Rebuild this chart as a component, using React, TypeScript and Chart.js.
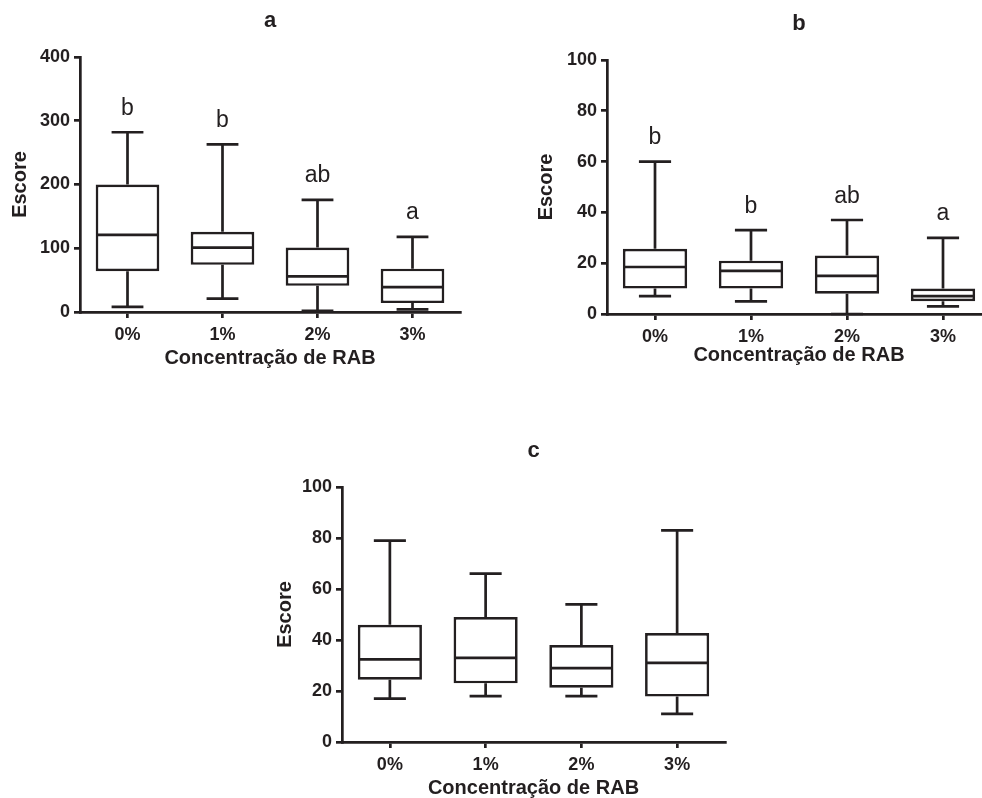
import React, { useEffect, useRef } from 'react';
import { Chart, registerables } from 'chart.js';

Chart.register(...registerables);

const FONT = '"Liberation Sans", Arial, Helvetica, sans-serif';
const LINE = '#231f20';
const TEXT = '#231f20';
const LW = 2.7;

const categories = ['0%', '1%', '2%', '3%'];
const xAxisTitle = 'Concentração de RAB';
const yAxisTitle = 'Escore';

// Panel a
const aMin = [8, 21, 2, 4];
const aQ1 = [64, 74, 41, 14];
const aMedian = [121, 101, 56, 39];
const aQ3 = [200, 126, 101, 68];
const aMax = [282, 263, 176, 118];
const aLetters = ['b', 'b', 'ab', 'a'];

// Panel b
const bMin = [7, 5, 0, 3];
const bQ1 = [10, 10, 8, 5];
const bMedian = [18.5, 17, 15, 7];
const bQ3 = [25.7, 21, 23, 10];
const bMax = [60, 33, 37, 30];
const bLetters = ['b', 'b', 'ab', 'a'];

// Panel c
const cMin = [17, 18, 18, 11];
const cQ1 = [24.4, 23, 21.3, 17.8];
const cMedian = [32.4, 33, 29, 31];
const cQ3 = [46, 49, 38, 42.7];
const cMax = [79, 66, 54, 83];
const cLetters: string[] = [];

type PanelProps = {
  title: string;
  mins: number[];
  q1s: number[];
  medians: number[];
  q3s: number[];
  maxs: number[];
  letters: string[];
  yMax: number;
  yStep: number;
  left: number;
  top: number;
  width: number;
  height: number;
  plotLeft: number;
  plotTop: number;
  plotRight: number;
  plotBottom: number;
  padBottom: number;
  yTitlePad: number;
};

function makeBoxPlugin(p: PanelProps) {
  return {
    id: 'boxExtras',
    afterDatasetsDraw(chart: any) {
      const { ctx, chartArea } = chart;
      const y = chart.scales.y;
      const meta = chart.getDatasetMeta(0);
      ctx.save();
      ctx.strokeStyle = LINE;
      ctx.lineWidth = LW;
      ctx.lineCap = 'butt';
      meta.data.forEach((bar: any, i: number) => {
        const x = bar.x;
        const w = bar.width;
        const pMin = y.getPixelForValue(p.mins[i]);
        const pQ1 = y.getPixelForValue(p.q1s[i]);
        const pMed = y.getPixelForValue(p.medians[i]);
        const pQ3 = y.getPixelForValue(p.q3s[i]);
        const pMax = y.getPixelForValue(p.maxs[i]);
        ctx.beginPath();
        ctx.moveTo(x, pQ3);
        ctx.lineTo(x, pMax);
        ctx.moveTo(x - w / 4, pMax);
        ctx.lineTo(x + w / 4, pMax);
        ctx.moveTo(x, pQ1);
        ctx.lineTo(x, pMin);
        ctx.moveTo(x - w / 4, pMin);
        ctx.lineTo(x + w / 4, pMin);
        ctx.moveTo(x - w / 2 + 1, pMed);
        ctx.lineTo(x + w / 2 - 1, pMed);
        ctx.stroke();
        if (p.letters[i]) {
          ctx.fillStyle = TEXT;
          ctx.font = `23px ${FONT}`;
          ctx.textAlign = 'center';
          ctx.textBaseline = 'alphabetic';
          ctx.fillText(p.letters[i], x, pMax - 17.5);
        }
      });
      ctx.fillStyle = TEXT;
      ctx.font = `bold 22px ${FONT}`;
      ctx.textAlign = 'center';
      ctx.textBaseline = 'alphabetic';
      ctx.fillText(p.title, (chartArea.left + chartArea.right) / 2, chartArea.top - 30);
      ctx.restore();
    },
  };
}

function BoxPanel(p: PanelProps) {
  const ref = useRef<HTMLCanvasElement | null>(null);
  useEffect(() => {
    if (!ref.current) return;
    const xH = p.height - p.padBottom - p.plotBottom;
    const chart = new Chart(ref.current, {
      type: 'bar',
      data: {
        labels: categories,
        datasets: [
          {
            data: categories.map((_, i) => [p.q1s[i], p.q3s[i]]) as any,
            backgroundColor: '#ffffff',
            borderColor: LINE,
            borderWidth: LW,
            borderSkipped: false,
            barPercentage: 0.67,
            categoryPercentage: 1,
          },
        ],
      },
      options: {
        responsive: false,
        animation: false,
        devicePixelRatio: 1,
        layout: {
          padding: {
            left: 0,
            top: p.plotTop,
            right: p.width - p.plotRight,
            bottom: p.padBottom,
          },
        },
        plugins: {
          legend: { display: false },
          tooltip: { enabled: false },
          title: { display: false },
        },
        scales: {
          x: {
            type: 'category',
            offset: true,
            grid: {
              offset: false,
              drawOnChartArea: false,
              drawTicks: true,
              tickLength: 6,
              color: LINE,
              lineWidth: LW,
            },
            border: { display: true, color: LINE, width: LW },
            ticks: {
              color: TEXT,
              padding: 6,
              font: { family: FONT, size: 18, weight: 'bold' },
            },
            title: {
              display: true,
              text: xAxisTitle,
              color: TEXT,
              font: { family: FONT, size: 20, weight: 'bold' },
              padding: { top: 0, bottom: 0 },
            },
            afterFit: (s: any) => {
              s.height = xH;
            },
          },
          y: {
            type: 'linear',
            min: 0,
            max: p.yMax,
            grid: {
              drawOnChartArea: false,
              drawTicks: true,
              tickLength: 6,
              color: LINE,
              lineWidth: LW,
            },
            border: { display: true, color: LINE, width: LW },
            ticks: {
              stepSize: p.yStep,
              color: TEXT,
              padding: 4,
              font: { family: FONT, size: 18, weight: 'bold' },
            },
            title: {
              display: true,
              text: yAxisTitle,
              color: TEXT,
              font: { family: FONT, size: 20, weight: 'bold' },
              padding: { top: p.yTitlePad, bottom: 0 },
            },
            afterFit: (s: any) => {
              s.width = p.plotLeft;
            },
          },
        },
      } as any,
      plugins: [makeBoxPlugin(p)],
    });
    return () => chart.destroy();
  }, []);
  return (
    <canvas
      ref={ref}
      width={p.width}
      height={p.height}
      style={{ position: 'absolute', left: p.left, top: p.top, width: p.width, height: p.height }}
    />
  );
}

export default function App() {
  return (
    <div
      style={{
        position: 'fixed',
        left: 0,
        top: 0,
        width: 982,
        height: 798,
        overflow: 'hidden',
        background: '#ffffff',
      }}
    >
      <BoxPanel
        title="a"
        mins={aMin}
        q1s={aQ1}
        medians={aMedian}
        q3s={aQ3}
        maxs={aMax}
        letters={aLetters}
        yMax={400}
        yStep={100}
        left={0}
        top={0}
        width={470}
        height={375}
        plotLeft={80}
        plotTop={57}
        plotRight={460}
        plotBottom={312}
        padBottom={5}
        yTitlePad={8}
      />
      <BoxPanel
        title="b"
        mins={bMin}
        q1s={bQ1}
        medians={bMedian}
        q3s={bQ3}
        maxs={bMax}
        letters={bLetters}
        yMax={100}
        yStep={20}
        left={520}
        top={0}
        width={480}
        height={375}
        plotLeft={87}
        plotTop={60}
        plotRight={471}
        plotBottom={314}
        padBottom={8}
        yTitlePad={14}
      />
      <BoxPanel
        title="c"
        mins={cMin}
        q1s={cQ1}
        medians={cMedian}
        q3s={cQ3}
        maxs={cMax}
        letters={cLetters}
        yMax={100}
        yStep={20}
        left={260}
        top={420}
        width={475}
        height={390}
        plotLeft={82}
        plotTop={67}
        plotRight={465}
        plotBottom={322}
        padBottom={10}
        yTitlePad={13}
      />
    </div>
  );
}
